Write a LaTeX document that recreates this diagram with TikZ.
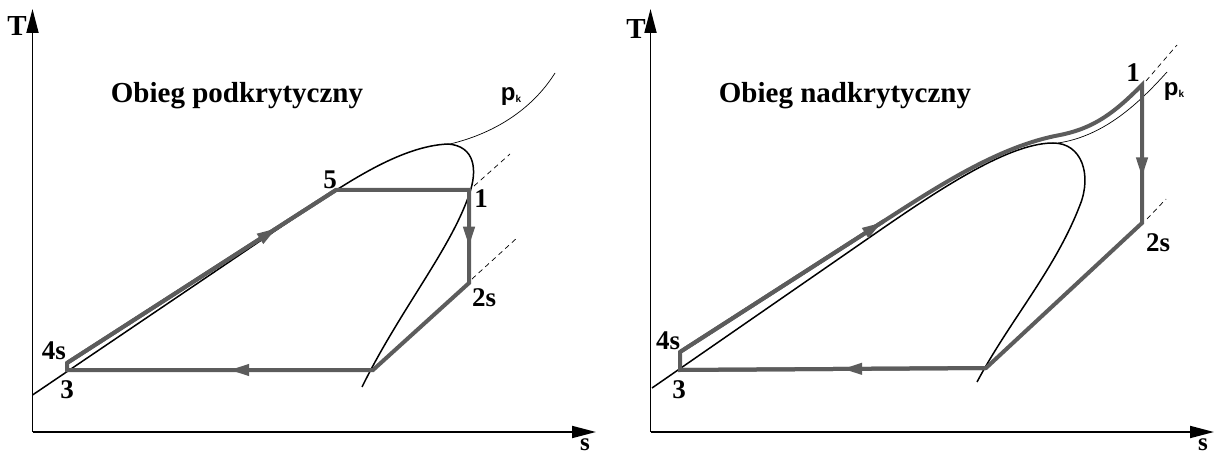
\documentclass[tikz,border=0pt]{standalone}
\usepackage{fontspec}
\setmainfont{Liberation Serif}
\newfontfamily\pkfont{Liberation Sans}
\usetikzlibrary{arrows.meta,decorations.markings}
\definecolor{cyclegray}{RGB}{92,92,92}
\tikzset{
  axis/.style={line width=1.8pt, -{Triangle[length=24pt,width=12pt]}},
  satline/.style={line width=1.5pt},
  isobar/.style={line width=0.7pt},
  dashline/.style={line width=0.7pt, dash pattern=on 5pt off 4pt},
  cyclepath/.style={line width=4pt, draw=cyclegray, line join=miter},
  midarrow/.style={
    postaction={decorate},
    decoration={markings,
      mark=at position #1 with {\arrow[cyclegray]{Triangle[length=20pt,width=11pt]}}}
  },
  ptlabel/.style={font=\fontsize{27}{27}\selectfont\bfseries, inner sep=0pt},
  axlabel/.style={font=\fontsize{29}{29}\selectfont\bfseries, inner sep=0pt},
  slabel/.style={font=\fontsize{25}{25}\selectfont\bfseries, inner sep=0pt},
  title/.style={font=\fontsize{29}{29}\selectfont\bfseries, inner sep=0pt, anchor=base},
  pklabel/.style={font=\pkfont\bfseries\fontsize{24}{24}\selectfont, inner sep=0pt}
}
\newcommand{\pk}{p\raisebox{-2pt}{\fontsize{10}{10}\selectfont k}}

\begin{document}
\begin{tikzpicture}[x=1pt, y=-1pt]
  \useasboundingbox (0,0) rectangle (1215,454);

  % --- subcritical cycle ---
  \coordinate (LO) at (32.5,432);
  \coordinate (L3) at (67,370);
  \coordinate (L4s) at (67,363);
  \coordinate (L5) at (336,190);
  \coordinate (L1) at (469,190);
  \coordinate (L2s) at (469,283);
  \coordinate (L6) at (373,370);

  \draw[axis] (LO) -- (32.5,9);
  \draw[axis] (LO) -- (596,432);
  \node[axlabel] (lT) at (17,26) {T};
  \node[slabel] (ls) at (585,444.5) {s};

  \draw[satline] (32.5,395) -- (300,214) .. controls (345,184) and (400,146) .. (448,144)
    .. controls (475,146) and (478,170) .. (469,195)
    .. controls (450,250) and (400,310) .. (362,387);
  \draw[isobar] (450,144) .. controls (500,132) and (535,105) .. (555,73);
  \draw[dashline] (L1) ++(5,-4) -- ++(36,-32);
  \draw[dashline] (L2s) ++(3,-4) -- ++(46,-42);

  \draw[cyclepath] (L3) -- (L4s) -- (L5) -- (L1) -- (L2s) -- (L6) -- cycle;
  \draw[cyclepath, midarrow=0.78] (L4s) -- (L5);
  \draw[cyclepath, midarrow=0.61] (L1) -- (L2s);
  \draw[cyclepath, midarrow=0.47] (L6) -- (L3);

  \node[ptlabel] (l3) at (67,390) {3};
  \node[ptlabel] (l4s) at (54,351) {4s};
  \node[ptlabel] (l5) at (330,180) {5};
  \node[ptlabel] (l1) at (481,199) {1};
  \node[ptlabel] (l2s) at (484,298) {2s};
  \node[pklabel] (lpk) at (511,97) {\pk};
  \node[title] (ltitle) at (237,103) {Obieg podkrytyczny};

  % --- supercritical cycle ---
  \coordinate (RO) at (650.5,432);
  \coordinate (R3) at (680,370);
  \coordinate (R4s) at (680,352);
  \coordinate (R1) at (1142,85);
  \coordinate (R2s) at (1142,223);
  \coordinate (R6) at (986,368);
  \coordinate (Rbend) at (884,221);

  \draw[axis] (RO) -- (650.5,9);
  \draw[axis] (RO) -- (1214,432);
  \node[axlabel] (rT) at (636,29) {T};
  \node[slabel] (rs) at (1203,444.5) {s};

  \draw[satline] (652,388) -- (850,251) .. controls (920,202.5) and (1003,143) .. (1053,143)
    .. controls (1082,143) and (1092,175) .. (1080,205)
    .. controls (1055,270) and (1010,320) .. (977,382);
  \draw[isobar] (1058,143) .. controls (1105,136) and (1140,102) .. (1167,72);
  \draw[dashline] (R1) ++(4,-4) -- ++(31,-36);
  \draw[dashline] (R2s) ++(5,-4) -- ++(19,-20);

  \draw[cyclepath] (R3) -- (R4s) -- (Rbend) .. controls (940,185) and (1000,146) .. (1060,135)
    .. controls (1095,128) and (1115,112) .. (R1) -- (R2s) -- (R6) -- cycle;
  \draw[cyclepath, midarrow=0.99] (R4s) -- (Rbend);
  \draw[cyclepath, midarrow=0.67] (R1) -- (R2s);
  \draw[cyclepath, midarrow=0.47] (R6) -- (R3);

  \node[ptlabel] (r3) at (679,390) {3};
  \node[ptlabel] (r4s) at (668,341) {4s};
  \node[ptlabel] (r1) at (1133,73) {1};
  \node[ptlabel] (r2s) at (1158,243) {2s};
  \node[pklabel] (rpk) at (1174,92) {\pk};
  \node[title] (rtitle) at (845,103) {Obieg nadkrytyczny};
\end{tikzpicture}
\end{document}
